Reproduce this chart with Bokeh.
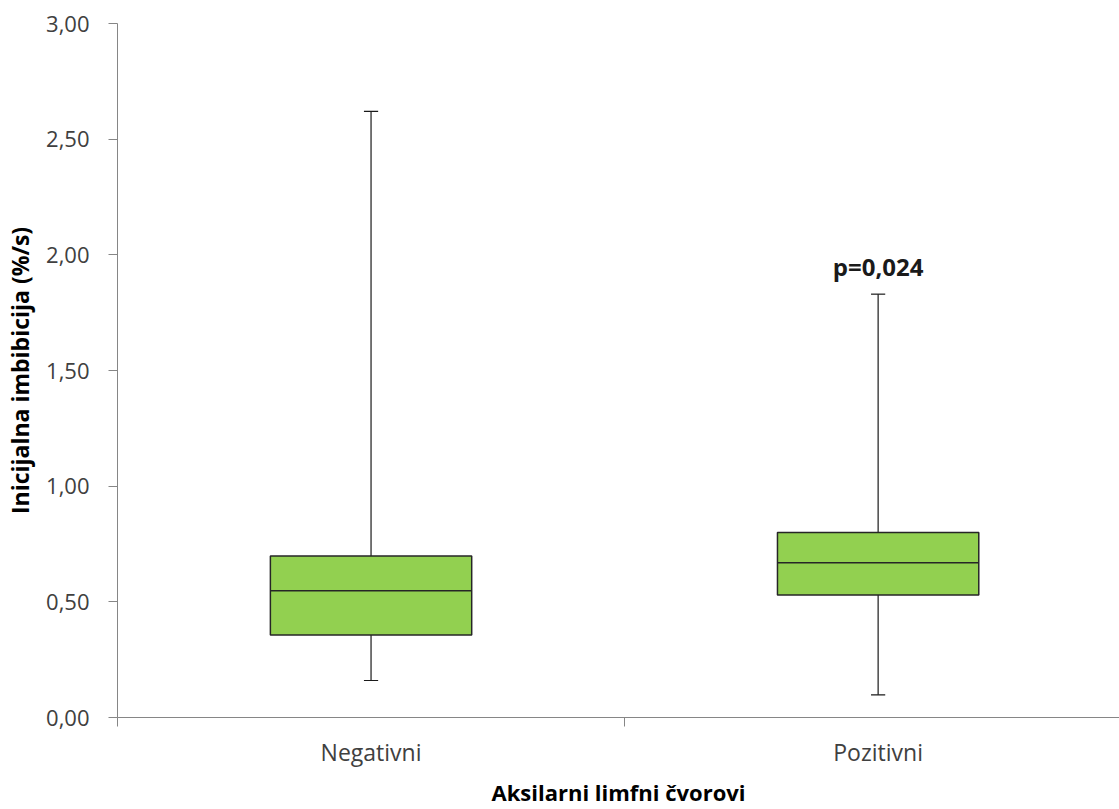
from bokeh.plotting import figure
from bokeh.models import Range1d, FixedTicker
from bokeh.core.properties import value
from bokeh.embed import file_html
from bokeh.resources import INLINE

# Data
categories = ["Negativni", "Pozitivni"]
x_pos = [0.5, 1.5]
whisker_min = [0.16, 0.098]
q1 = [0.357, 0.53]
median = [0.548, 0.669]
q3 = [0.698, 0.80]
whisker_max = [2.62, 1.83]
y_ticks = [0.0, 0.5, 1.0, 1.5, 2.0, 2.5, 3.0]
p_label = "p=0,024"

FONT = "Open Sans"
GREEN = "#92D050"

p = figure(width=1119, height=809, output_backend="svg", toolbar_location=None,
           x_range=Range1d(0, 1.976), y_range=Range1d(0, 3.0),
           min_border_left=117, min_border_right=0, min_border_top=23, min_border_bottom=92)
p.outline_line_color = None
p.grid.grid_line_color = None
p.background_fill_color = "white"
p.border_fill_color = "white"

box_w = 0.397
cap_w = 0.028

# whiskers
p.segment(x0=x_pos, y0=q3, x1=x_pos, y1=whisker_max, line_color="#1a1a1a", line_width=1.2)
p.segment(x0=x_pos, y0=whisker_min, x1=x_pos, y1=q1, line_color="#1a1a1a", line_width=1.2)
xl = [x - cap_w / 2 for x in x_pos]
xr = [x + cap_w / 2 for x in x_pos]
p.segment(x0=xl, y0=whisker_max, x1=xr, y1=whisker_max, line_color="#1a1a1a", line_width=1.2)
p.segment(x0=xl, y0=whisker_min, x1=xr, y1=whisker_min, line_color="#1a1a1a", line_width=1.2)

# boxes
p.vbar(x=x_pos, width=box_w, bottom=q1, top=q3, fill_color=GREEN, line_color="#262626", line_width=1.5)
bl = [x - box_w / 2 for x in x_pos]
br = [x + box_w / 2 for x in x_pos]
p.segment(x0=bl, y0=median, x1=br, y1=median, line_color="#262626", line_width=1.5)

# p-value annotation above Pozitivni
p.text(x=[x_pos[1]], y=[whisker_max[1]], text=[p_label], y_offset=-28,
       text_align="center", text_baseline="alphabetic",
       text_font=value(FONT), text_font_style="bold", text_font_size="24px", text_color="#1a1a1a")

# y axis
yax = p.yaxis[0]
yax.ticker = FixedTicker(ticks=y_ticks)
yax.major_label_overrides = {t: f"{t:.2f}".replace(".", ",") for t in y_ticks}
yax.minor_tick_line_color = None
yax.major_tick_out = 9
yax.major_tick_in = 0
yax.axis_line_color = "#868686"
yax.major_tick_line_color = "#868686"
yax.major_label_text_font = FONT
yax.major_label_text_font_size = "22px"
yax.major_label_text_color = "#404040"
yax.major_label_standoff = 19
yax.axis_label = "Inicijalna imbibicija (%/s)"
yax.axis_label_text_font = FONT
yax.axis_label_text_font_style = "bold"
yax.axis_label_text_font_size = "23px"
yax.axis_label_text_color = "#000000"
yax.axis_label_standoff = 7

# x axis
xax = p.xaxis[0]
xax.ticker = FixedTicker(ticks=x_pos, minor_ticks=[0, 1, 2])
xax.major_label_overrides = {x: c for x, c in zip(x_pos, categories)}
xax.major_tick_line_color = None
xax.major_tick_out = 0
xax.major_tick_in = 0
xax.minor_tick_out = 9
xax.minor_tick_in = 0
xax.minor_tick_line_color = "#868686"
xax.axis_line_color = "#868686"
xax.major_label_text_font = FONT
xax.major_label_text_font_size = "23px"
xax.major_label_text_color = "#404040"
xax.major_label_standoff = 9
xax.axis_label = "Aksilarni limfni čvorovi"
xax.axis_label_text_font = FONT
xax.axis_label_text_font_style = "bold"
xax.axis_label_text_font_size = "22px"
xax.axis_label_text_color = "#000000"
xax.axis_label_standoff = 6

open("out.html", "w").write(file_html(p, INLINE))
